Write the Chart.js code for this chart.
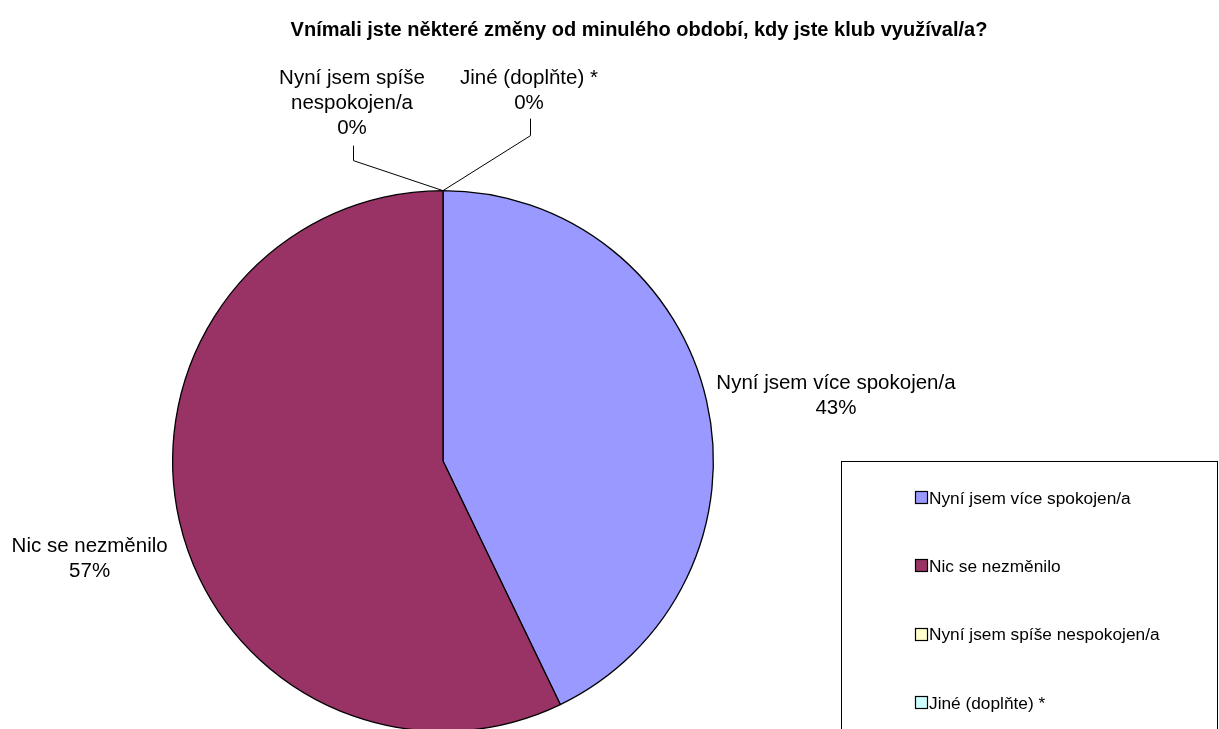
<!DOCTYPE html>
<html lang="cs">
<head>
<meta charset="utf-8">
<title>Vnímali jste některé změny od minulého období</title>
<script src="https://cdn.jsdelivr.net/npm/chart.js@4.4.1/dist/chart.umd.min.js"></script>
<style>
  html, body { margin: 0; padding: 0; background: #ffffff; overflow: hidden; }
  #wrap { position: relative; width: 1219px; height: 729px; overflow: hidden; }
  canvas { display: block; }
</style>
</head>
<body>
<div id="wrap"><canvas id="chart" width="1219" height="770"></canvas></div>
<script>
// Survey answers and response counts
const categories = [
  'Nyní jsem více spokojen/a',
  'Nic se nezměnilo',
  'Nyní jsem spíše nespokojen/a',
  'Jiné (doplňte) *'
];
const counts = [3, 4, 0, 0];
const sliceColors = ['#9999FF', '#993366', '#FFFFCC', '#CCFFFF'];
const titleText = 'Vnímali jste některé změny od minulého období, kdy jste klub využíval/a?';

const FONT = '"Liberation Sans", Arial, Helvetica, sans-serif';

function wrapText(ctx, text, maxWidth) {
  const words = text.split(' ');
  const lines = [];
  let line = '';
  for (const w of words) {
    const test = line ? line + ' ' + w : w;
    if (ctx.measureText(test).width > maxWidth && line) {
      lines.push(line);
      line = w;
    } else {
      line = test;
    }
  }
  if (line) lines.push(line);
  return lines;
}

// Title, outside data labels with leader lines, and the framed legend
const decorPlugin = {
  id: 'decor',
  afterDraw(chart, args, opts) {
    const ctx = chart.ctx;
    const data = chart.data.datasets[0].data;
    const total = data.reduce((a, b) => a + b, 0);
    const meta = chart.getDatasetMeta(0);

    ctx.save();
    // title
    ctx.fillStyle = '#000';
    ctx.font = 'bold 20px ' + FONT;
    ctx.textAlign = 'center';
    ctx.textBaseline = 'middle';
    ctx.fillText(titleText, 639, 30);

    // data labels
    ctx.font = '20.5px ' + FONT;
    const lh = 25;
    meta.data.forEach((arc, i) => {
      const p = arc.getProps(['x', 'y', 'startAngle', 'endAngle', 'outerRadius'], true);
      const pct = Math.round(data[i] / total * 100) + '%';
      const lines = wrapText(ctx, chart.data.labels[i], 255).concat([pct]);
      const blockW = Math.max(...lines.map(l => ctx.measureText(l).width));
      const blockH = lines.length * lh;
      const call = opts.callouts[i];
      let cx, cy;
      if (call) {
        // zero-size slice: leader line from the rim to a label above
        const a = p.startAngle;
        const ax = p.x + Math.cos(a) * p.outerRadius;
        const ay = p.y + Math.sin(a) * p.outerRadius;
        const ex = ax + call.dx, ey = ay + call.dy;
        ctx.strokeStyle = '#000';
        ctx.lineWidth = 1;
        ctx.beginPath();
        ctx.moveTo(ax, ay);
        ctx.lineTo(ex + 0.5, ey + call.rise);
        ctx.lineTo(ex + 0.5, ey);
        ctx.stroke();
        cx = ex - 1;
        cy = ey - call.pad - blockH / 2;
      } else {
        const mid = (p.startAngle + p.endAngle) / 2;
        const r = p.outerRadius + opts.gap;
        const px = p.x + Math.cos(mid) * r;
        const py = p.y + Math.sin(mid) * r;
        cx = Math.cos(mid) >= 0 ? px + blockW / 2 : px - 2 - blockW / 2;
        cy = py + (opts.shiftY[i] || 0);
      }
      ctx.fillStyle = '#000';
      lines.forEach((l, k) => {
        ctx.fillText(l, cx, cy - blockH / 2 + lh * (k + 0.5));
      });
    });

    // legend frame
    ctx.strokeStyle = '#000';
    ctx.lineWidth = 1;
    ctx.strokeRect(841.5, 461.5, 376, 320);
    ctx.font = '17.3px ' + FONT;
    ctx.textAlign = 'left';
    chart.data.labels.forEach((lab, i) => {
      const y = 498 + i * 68.3;
      const top = Math.round(y) - 6;
      ctx.fillStyle = sliceColors[i];
      ctx.fillRect(916, top, 11, 11);
      ctx.strokeStyle = '#000';
      ctx.lineWidth = 1.2;
      ctx.strokeRect(915.5, top - 0.5, 12, 12);
      ctx.fillStyle = '#000';
      ctx.fillText(lab, 929, y + 1);
    });
    ctx.restore();
  }
};

new Chart(document.getElementById('chart'), {
  type: 'pie',
  data: {
    labels: categories,
    datasets: [{
      data: counts,
      backgroundColor: sliceColors,
      borderColor: '#000000',
      borderWidth: 1.3,
      borderAlign: 'center'
    }]
  },
  options: {
    responsive: false,
    animation: false,
    devicePixelRatio: 1,
    layout: { padding: { left: 172, right: 505, top: 190, bottom: 38 } },
    plugins: {
      legend: { display: false },
      tooltip: { enabled: false },
      title: { display: false },
      decor: {
        gap: 10,
        shiftY: [-3, 35, 0, 0],
        callouts: [null, null,
          { dx: -90, dy: -45, rise: 15, pad: 5 },
          { dx: 87, dy: -72, rise: 17, pad: 3 }]
      }
    }
  },
  plugins: [decorPlugin]
});
</script>
</body>
</html>
